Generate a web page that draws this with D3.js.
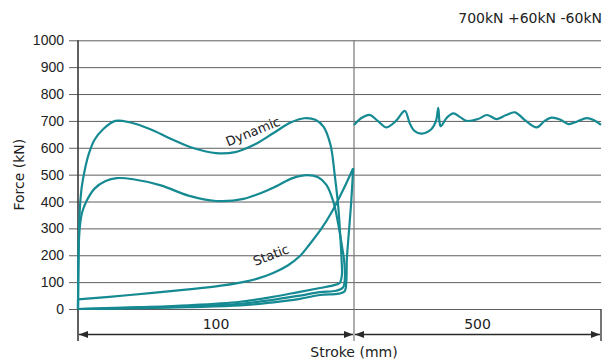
<!DOCTYPE html>
<html>
<head>
<meta charset="utf-8">
<script src="https://cdn.jsdelivr.net/npm/d3@7"></script>
<style>
  body { margin: 0; background: #fff; }
  svg { display: block; font-family: "DejaVu Sans", sans-serif; }
  .grid line { stroke: #5e5e5e; stroke-width: 1; }
  .curve { fill: none; stroke: #168a92; stroke-width: 2.2; stroke-linejoin: round; }
  .lbl { fill: #222; font-size: 14px; }
</style>
</head>
<body>
<div id="chart"></div>
<script>
// stroke in mm, force in kN
var yTicks = [0, 100, 200, 300, 400, 500, 600, 700, 800, 900, 1000];
var spans = [[0, 100, '100'], [100, 600, '500']];
var title = '700kN +60kN -60kN';

var dynamicLoop = [
	[0, 0], [0.2, 200], [0.6, 360], [1.3, 450], [2.5, 520], [4, 580], [6, 630], [9, 668], [13.5, 700],
	[19, 694], [26, 670], [34, 632], [42, 598], [50, 580], [57, 584], [64, 612], [71, 656], [77, 694],
	[82, 710], [86, 704], [89, 678], [91.5, 610], [93, 500], [94.3, 380], [95.1, 260], [95.5, 183],
	[95.6, 125], [94.8, 97], [92.5, 88], [87.7, 78], [80.4, 64], [70, 44], [58.7, 27], [40, 14],
	[22.5, 7], [10, 3], [0, 0]
];
var staticLoop = [
	[0, 0], [0.2, 200], [0.6, 300], [1.5, 360], [3, 400], [6, 448], [10, 476], [14, 487],
	[20, 483], [30, 460], [40, 422], [50, 402], [60, 410], [70, 448], [78, 488], [83, 498],
	[87, 490], [90, 462], [92.5, 400], [94.4, 310], [95.7, 230], [96.4, 183], [96.7, 115],
	[96, 80], [93.5, 68], [87.7, 63], [80.4, 50], [70, 33], [58.7, 19], [40, 10], [22.5, 5], [0, 0]
];
var staticRamp = [
	[0, 36], [18.8, 52], [40, 73], [50, 84], [58.7, 98], [65, 113], [70.7, 134], [76, 162],
	[80.4, 197], [84, 242], [88, 296], [92, 362], [96, 442], [99.7, 524]
];
var staticReturn = [
	[99.7, 524], [99, 400], [98.1, 280], [97.4, 183], [97.2, 100], [96.6, 66], [94.5, 57],
	[87.7, 52], [80.4, 38], [70, 24], [58.7, 13], [40, 7], [22.5, 3], [0, 0]
];
var holdWave = [
	[100, 685], [116, 712], [132, 722], [148, 700], [166, 676], [185, 700], [203, 737],
	[213, 690], [223, 662], [237, 653], [257, 670], [266, 700], [270.6, 749], [273, 698],
	[275.5, 680], [288, 712], [301, 728], [315, 714], [328, 700], [351, 707], [369, 722],
	[389, 707], [408, 722], [426, 732], [446, 703], [470, 676], [486, 700], [500, 712],
	[517, 705], [534, 688], [552, 698], [571, 710], [586, 702], [600, 685]
];

var width = 613, height = 362;
var svg = d3.select('#chart').append('svg')
	.attr('width', width)
	.attr('height', height);

var x = d3.scaleLinear().domain([0, 100, 600]).range([78, 354, 601]);
var y = d3.scaleLinear().domain([0, 1000]).range([309, 40.3]);

// horizontal grid with ticks
var yAxis = d3.axisLeft(y)
	.tickValues(yTicks)
	.tickFormat(d3.format('d'))
	.tickSize(-(x(600) - x(0)))
	.tickPadding(14);
var gy = svg.append('g')
	.attr('class', 'grid')
	.attr('transform', 'translate(' + x(0) + ',0)')
	.call(yAxis);
gy.select('.domain').remove();
gy.selectAll('.tick line').attr('x1', -9);
gy.selectAll('.tick text').attr('fill', '#222').style('font-size', '14px');

// vertical lines
svg.append('line')
	.attr('x1', x(0)).attr('x2', x(0))
	.attr('y1', y(1000)).attr('y2', 341)
	.attr('stroke', '#3a3a3a').attr('stroke-width', 1.6);
svg.append('line')
	.attr('x1', x(100)).attr('x2', x(100))
	.attr('y1', y(1000)).attr('y2', 341)
	.attr('stroke', '#777').attr('stroke-width', 1.2);
svg.append('line')
	.attr('x1', x(600)).attr('x2', x(600))
	.attr('y1', y(0)).attr('y2', 341)
	.attr('stroke', '#3a3a3a').attr('stroke-width', 1.4);

// dimension lines
var dimY = 334.5;
var dims = svg.append('g');
spans.forEach(function(s) {
	var x0 = x(s[0]) + 1, x1 = x(s[1]) - 1;
	dims.append('line')
		.attr('x1', x0).attr('x2', x1)
		.attr('y1', dimY).attr('y2', dimY)
		.attr('stroke', '#2a2a2a').attr('stroke-width', 1.3);
	dims.append('path')
		.attr('d', 'M' + [x0, dimY] + 'L' + [x0 + 9, dimY - 3.5] + 'L' + [x0 + 9, dimY + 3.5] + 'Z')
		.attr('fill', '#2a2a2a');
	dims.append('path')
		.attr('d', 'M' + [x1, dimY] + 'L' + [x1 - 9, dimY - 3.5] + 'L' + [x1 - 9, dimY + 3.5] + 'Z')
		.attr('fill', '#2a2a2a');
	dims.append('text')
		.attr('class', 'lbl')
		.attr('x', (x0 + x1) / 2)
		.attr('y', 329)
		.attr('text-anchor', 'middle')
		.text(s[2]);
});

// curves
var line = d3.line()
	.x(function(d) { return x(d[0]); })
	.y(function(d) { return y(d[1]); })
	.curve(d3.curveCatmullRom.alpha(0.5));

[dynamicLoop, staticLoop, staticRamp, staticReturn, holdWave].forEach(function(c) {
	svg.append('path')
		.attr('class', 'curve')
		.attr('d', line(c));
});
// ramp starts from the zero line along the axis
svg.append('line')
	.attr('x1', x(0)).attr('x2', x(0))
	.attr('y1', y(0)).attr('y2', y(staticRamp[0][1]))
	.attr('stroke', '#168a92').attr('stroke-width', 2.2);

// curve labels
svg.append('text')
	.attr('class', 'lbl')
	.attr('transform', 'translate(' + x(64) + ',' + y(645) + ') rotate(-22)')
	.attr('text-anchor', 'middle')
	.style('font-size', '13px')
	.text('Dynamic');
svg.append('text')
	.attr('class', 'lbl')
	.attr('transform', 'translate(' + x(70.5) + ',' + y(185) + ') rotate(-21)')
	.attr('text-anchor', 'middle')
	.style('font-size', '13px')
	.text('Static');

// titles
svg.append('text')
	.attr('class', 'lbl')
	.attr('x', 602).attr('y', 23)
	.attr('text-anchor', 'end')
	.text(title);
svg.append('text')
	.attr('class', 'lbl')
	.attr('transform', 'translate(24,' + y(500) + ') rotate(-90)')
	.attr('text-anchor', 'middle')
	.text('Force (kN)');
svg.append('text')
	.attr('class', 'lbl')
	.attr('x', 354).attr('y', 357)
	.attr('text-anchor', 'middle')
	.text('Stroke (mm)');
</script>
</body>
</html>
